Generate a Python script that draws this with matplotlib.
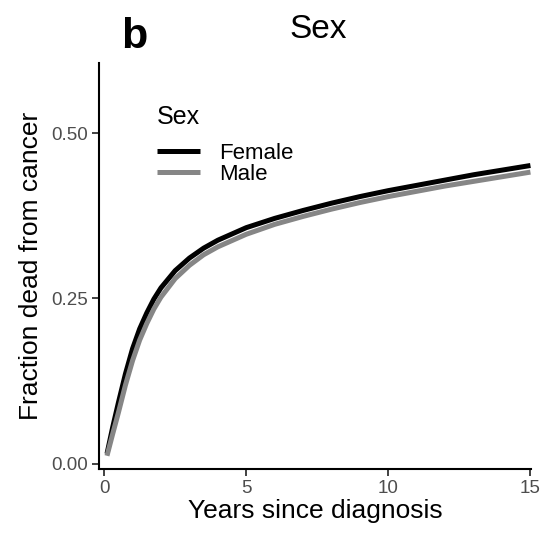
#! /usr/bin/env python3
"""
Cumulative fraction dead from cancer by sex, panel b
"""

import matplotlib
matplotlib.use("Agg")
import matplotlib.pyplot as plt

plt.rcParams["font.family"] = ["Liberation Sans", "DejaVu Sans"]

# values
years = [0.1, 0.3, 0.5, 0.75, 1.0, 1.25, 1.5, 1.75, 2.0, 2.5, 3.0, 3.5,
         4.0, 5.0, 6.0, 7.0, 8.0, 9.0, 10.0, 11.0, 12.0, 13.0, 14.0, 15.0]
female = [0.015, 0.055, 0.092, 0.136, 0.174, 0.204, 0.228, 0.249, 0.266,
          0.292, 0.311, 0.326, 0.338, 0.357, 0.371, 0.383, 0.394, 0.404,
          0.413, 0.421, 0.429, 0.437, 0.444, 0.451]
male = [0.012, 0.045, 0.077, 0.119, 0.156, 0.187, 0.212, 0.234, 0.252,
        0.280, 0.300, 0.316, 0.328, 0.347, 0.362, 0.374, 0.385, 0.395,
        0.404, 0.412, 0.420, 0.427, 0.434, 0.441]
x_ticks = [0, 5, 10, 15]
y_ticks = [0.00, 0.25, 0.50]


def main():
    """
    Driver code
    """
    fig = plt.figure(figsize=(5.45, 5.34), dpi=100)
    ax = fig.add_axes([0.1817, 0.1217, 0.7926, 0.7603])

    ax.plot(years, female, color="black", lw=3.6, label="Female",
            solid_capstyle="butt", solid_joinstyle="round")
    ax.plot(years, male, color="#868686", lw=3.6, label="Male",
            solid_capstyle="butt", solid_joinstyle="round")

    ax.set_xlim(-0.18, 15.02)
    ax.set_ylim(-0.008, 0.606)
    ax.set_xticks(x_ticks)
    ax.set_yticks(y_ticks)
    ax.set_yticklabels([f"{v:.2f}" for v in y_ticks])

    for side in ("top", "right"):
        ax.spines[side].set_visible(False)
    for side in ("left", "bottom"):
        ax.spines[side].set_linewidth(1.5)
    ax.tick_params(length=5, width=1.3, color="#333333", labelsize=13.5,
                   labelcolor="#4D4D4D", pad=3)

    ax.set_xlabel("Years since diagnosis", fontsize=19, labelpad=1)
    ax.set_ylabel("Fraction dead from cancer", fontsize=19, labelpad=6)

    fig.text(0.583, 0.944, "Sex", fontsize=24, ha="center", va="center")
    fig.text(0.247, 0.931, "b", fontsize=31, fontweight="bold",
             ha="center", va="center")

    # legend title drawn apart so the gap to the keys can match
    fig.text(0.288, 0.781, "Sex", fontsize=18, ha="left", va="center")
    leg = ax.legend(loc="center left", bbox_to_anchor=(0.288, 0.693),
                    bbox_transform=fig.transFigure, frameon=False,
                    fontsize=16, handlelength=1.95, handletextpad=0.85,
                    labelspacing=0.0, borderpad=0, borderaxespad=0)
    for line in leg.get_lines():
        line.set_linewidth(3.6)

    fig.savefig("out.png", dpi=100)


if __name__ == "__main__":
    main()
